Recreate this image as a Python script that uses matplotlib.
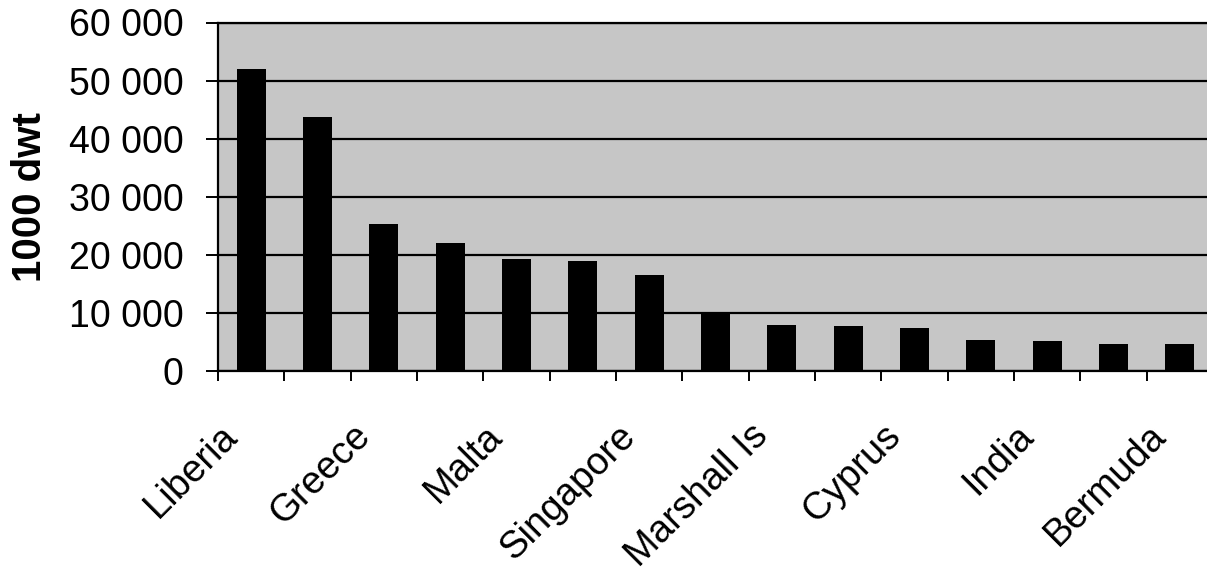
import matplotlib
matplotlib.use('Agg')
import matplotlib.pyplot as plt
import matplotlib.transforms as mtransforms
from matplotlib.ticker import FuncFormatter, MultipleLocator
import numpy as np

plt.rcParams['font.family'] = ['Liberation Sans', 'DejaVu Sans']

# only every other flag is labelled in the source chart
countries = ['Liberia', '', 'Greece', '', 'Malta', '', 'Singapore', '',
             'Marshall Is', '', 'Cyprus', '', 'India', '', 'Bermuda']
dwt = [52000, 43800, 25300, 22000, 19300, 19000, 16600, 10100,
       7900, 7700, 7400, 5400, 5100, 4600, 4600]

fig = plt.figure(figsize=(12.07, 5.73), dpi=100)
# axes runs a little past the right edge, as in the original crop
ax = fig.add_axes([218 / 1207, 1 - 371 / 573, 995 / 1207, 348.5 / 573])
ax.set_facecolor('#c6c6c6')

x = np.arange(len(dwt))
ax.bar(x, dwt, width=0.44, color='black', zorder=3)

ax.set_xlim(-0.5, len(dwt) - 0.5)
ax.set_ylim(0, 60000)
ax.yaxis.set_major_locator(MultipleLocator(10000))
ax.yaxis.set_major_formatter(FuncFormatter(lambda v, p: f'{v:,.0f}'.replace(',', ' ')))
ax.grid(axis='y', color='black', linewidth=1.6, zorder=1)

# tick marks sit on category boundaries, labels near bar centres
ax.set_xticks(np.arange(-0.5, len(dwt), 1.0))
ax.set_xticklabels([])
ax.set_xticks(x[::2], minor=True)
ax.set_xticklabels(countries[::2], minor=True, rotation=45, ha='right',
                   rotation_mode='anchor', fontsize=27.5)
ax.tick_params(axis='x', which='major', length=7, width=1.4, direction='out')
ax.tick_params(axis='x', which='minor', length=0, pad=30)
ax.tick_params(axis='y', length=9, width=1.4, pad=16, labelsize=27)

shift = mtransforms.ScaledTranslation(-0.32, -0.05, fig.dpi_scale_trans)
for lab in ax.get_xticklabels(minor=True):
    lab.set_transform(lab.get_transform() + shift)

for s in ax.spines.values():
    s.set_linewidth(1.6)
    s.set_color('black')
    s.set_zorder(4)

ax.set_ylabel('1000 dwt', fontsize=29, fontweight='bold', labelpad=14)

fig.savefig('out.png', dpi=100)
